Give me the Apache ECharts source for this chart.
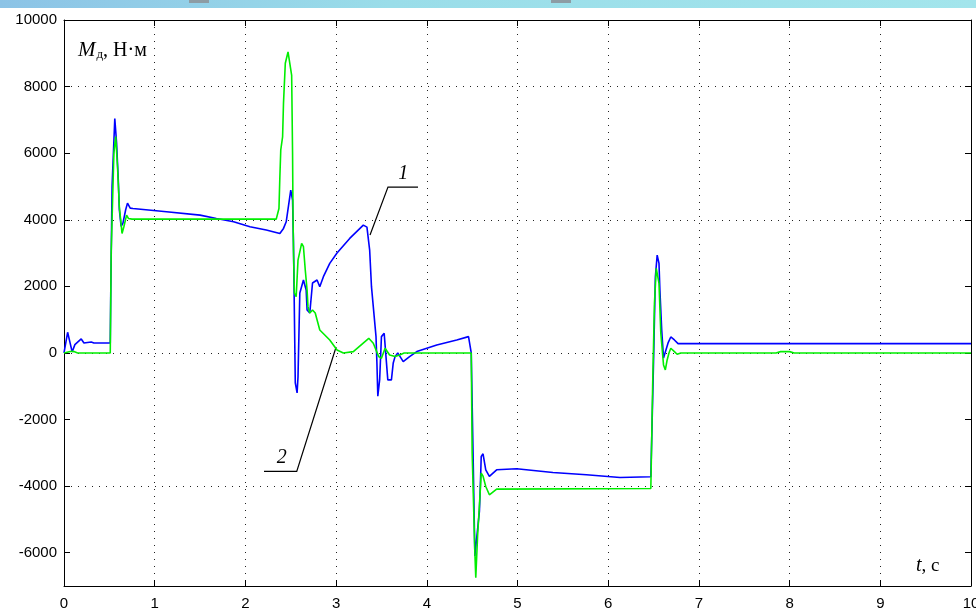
<!DOCTYPE html>
<html>
<head>
<meta charset="utf-8">
<script src="https://cdn.jsdelivr.net/npm/echarts@6/dist/echarts.min.js"></script>
<style>
  html, body { margin: 0; padding: 0; background: #fff; }
  #chart { width: 976px; height: 614px; }
</style>
</head>
<body>
<div id="chart"></div>
<script>
// Torque of the motor vs time, two simulated cases (curve 1 blue, curve 2 green)
const tBlue = [0, 0.01, 0.04, 0.09, 0.12, 0.19, 0.22, 0.30, 0.33, 0.51, 0.515, 0.53, 0.56, 0.58, 0.60, 0.61, 0.63, 0.65, 0.68, 0.70, 0.73,
  0.76, 1.13, 1.50, 1.68, 1.87, 2.05, 2.23, 2.38, 2.42, 2.45, 2.50, 2.52, 2.53, 2.55, 2.57, 2.58, 2.60, 2.64, 2.67, 2.68, 2.71,
  2.74, 2.79, 2.82, 2.86, 2.93, 3.01, 3.15, 3.30, 3.34, 3.37, 3.39, 3.42, 3.44, 3.45, 3.46, 3.48, 3.50, 3.53, 3.55, 3.57, 3.61,
  3.63, 3.65, 3.68, 3.74, 3.81, 3.89, 4.11, 4.33, 4.46, 4.48, 4.49, 4.51, 4.53, 4.55, 4.58, 4.59, 4.60, 4.62, 4.65, 4.69, 4.77,
  4.99, 5.39, 5.76, 6.13, 6.47, 6.50, 6.52, 6.54, 6.56, 6.57, 6.59, 6.61, 6.63, 6.66, 6.69, 6.73, 6.77, 10];
const mBlue = [0, 0, 620, 30, 250, 420, 300, 330, 300, 300, 1700, 5000, 7040, 6300, 5100, 4300, 3800, 3900, 4300, 4500, 4350,
  4340, 4240, 4140, 4040, 3940, 3790, 3690, 3590, 3740, 3940, 4890, 4590, 3300, -900, -1200, -720, 1800, 2190, 1890, 1290, 1200,
  2100, 2190, 1990, 2290, 2690, 3000, 3440, 3840, 3780, 3090, 1990, 1090, 490, -300, -1300, -810, 490, 590, -110, -810, -810,
  -300, -110, 0, -260, -110, 40, 240, 390, 490, 450, 0, -3000, -6100, -6100, -4760, -4010, -3110, -3030, -3510, -3710, -3510,
  -3480, -3590, -3660, -3740, -3720, -260, 2290, 2940, 2690, 1890, 690, -150, -210, 300, 480, 390, 280, 280];

const tGreen = [0, 0.08, 0.11, 0.15, 0.51, 0.52, 0.55, 0.57, 0.59, 0.61, 0.64, 0.66, 0.69, 0.71, 0.75, 2.34, 2.37, 2.38, 2.39,
  2.41, 2.42, 2.44, 2.47, 2.49, 2.51, 2.52, 2.525, 2.53, 2.54, 2.56, 2.58, 2.62, 2.64, 2.66, 2.68, 2.69, 2.71, 2.74, 2.77, 2.82,
  2.93, 3.01, 3.08, 3.19, 3.36, 3.41, 3.47, 3.50, 3.54, 3.59, 3.65, 3.70, 3.75, 4.49, 4.50, 4.53, 4.54, 4.56, 4.59, 4.60, 4.62,
  4.65, 4.69, 4.77, 6.47, 6.49, 6.51, 6.53, 6.56, 6.58, 6.61, 6.63, 6.65, 6.67, 6.69, 6.73, 6.76, 6.80, 7.85, 7.90, 8.00, 8.05, 10];
const mGreen = [0, 50, 40, 0, 0, 3000, 6000, 6500, 5590, 4390, 3590, 3790, 4140, 4040, 4020, 4020, 4340, 5290, 6100,
  6490, 7500, 8700, 9040, 8690, 8340, 6000, 4090, 3090, 1800, 1690, 2790, 3290, 3190, 2490, 1890, 1390, 1200, 1290, 1200, 690,
  390, 90, 0, 40, 440, 290, -110, -160, 140, -60, -110, -60, 0, 0, -3000, -6000, -6750, -5500, -4110, -3610, -3700,
  -4010, -4260, -4090, -4070, -1000, 1500, 2540, 2090, 590, -360, -510, -210, 0, 140, 40, -40, 0, 0, 40, 40, 0, 0];

const yTicks = [-6000, -4000, -2000, 0, 2000, 4000, 6000, 8000, 10000];
const xTicks = [0, 1, 2, 3, 4, 5, 6, 7, 8, 9, 10];

// Leader lines for the curve numbers, in data units [t, M]
const leader1 = [[3.374, 3540], [3.572, 4980], [3.903, 4980]];
const label1 = { text: '1', at: [3.74, 5370] };
const leader2 = [[3.0, 180], [2.566, -3560], [2.205, -3560]];
const label2 = { text: '2', at: [2.40, -3150] };

const zip = (xs, ys) => xs.map((x, i) => [x, ys[i]]);

const chart = echarts.init(document.getElementById('chart'), null, { renderer: 'canvas' });

const dotted = { color: '#222', width: 1, type: [1, 6] };
const tickFont = { color: '#000', fontSize: 15, fontFamily: 'Liberation Sans, Arial, sans-serif' };

const option = {
  animation: false,
  backgroundColor: '#fff',
  grid: { left: 64, right: 5, top: 20, bottom: 28, show: false, containLabel: false, outerBoundsMode: 'none' },
  xAxis: [
    {
      type: 'value', min: 0, max: 10, interval: 1, position: 'bottom',
      axisLine: { show: true, onZero: false, lineStyle: { color: '#000', width: 1 } },
      axisTick: { show: true, inside: true, length: 6, lineStyle: { color: '#000' } },
      axisLabel: Object.assign({ margin: 10, formatter: v => String(v) }, tickFont),
      splitLine: { show: true, lineStyle: dotted }
    },
    {
      type: 'value', min: 0, max: 10, interval: 1, position: 'top',
      axisLine: { show: true, onZero: false, lineStyle: { color: '#000', width: 1 } },
      axisTick: { show: true, inside: true, length: 6, lineStyle: { color: '#000' } },
      axisLabel: { show: false },
      splitLine: { show: false }
    }
  ],
  yAxis: [
    {
      type: 'value', min: -7000, max: 10000, interval: 1000, position: 'left',
      axisLine: { show: true, onZero: false, lineStyle: { color: '#000', width: 1 } },
      axisTick: { show: true, inside: true, length: 6, lineStyle: { color: '#000' }, customValues: yTicks },
      axisLabel: Object.assign({ margin: 7, formatter: v => (yTicks.indexOf(v) >= 0 ? String(v) : '') }, tickFont),
      splitLine: { show: true, lineStyle: { color: ['rgba(0,0,0,0)', '#222'], width: 1, type: [1, 6] } }
    },
    {
      type: 'value', min: -7000, max: 10000, interval: 1000, position: 'right',
      axisLine: { show: true, onZero: false, lineStyle: { color: '#000', width: 1 } },
      axisTick: { show: true, inside: true, length: 6, lineStyle: { color: '#000' }, customValues: yTicks },
      axisLabel: { show: false },
      splitLine: { show: false }
    }
  ],
  series: [
    {
      name: '1', type: 'line', data: zip(tBlue, mBlue), showSymbol: false, symbol: 'none',
      lineStyle: { color: '#0000ff', width: 1.6 }, z: 3
    },
    {
      name: '2', type: 'line', data: zip(tGreen, mGreen), showSymbol: false, symbol: 'none',
      lineStyle: { color: '#00ee00', width: 1.6 }, z: 4
    }
  ]
};

chart.setOption(option);

// Overlay: header band, axis captions and the curve leaders
const px = p => chart.convertToPixel({ xAxisIndex: 0, yAxisIndex: 0 }, p);
const pts = arr => arr.map(px);
const l1 = px(label1.at);
const l2 = px(label2.at);
const serif = 'Liberation Serif, Times New Roman, serif';

chart.setOption({
  graphic: [
    {
      type: 'rect', left: 0, top: 0, silent: true,
      shape: { width: 976, height: 8 },
      style: {
        fill: new echarts.graphic.LinearGradient(0, 0, 1, 0, [
          { offset: 0, color: '#8cc3e6' },
          { offset: 0.4, color: '#9adde9' },
          { offset: 1, color: '#a3e5ec' }
        ])
      }
    },
    { type: 'rect', left: 189, top: 0, silent: true, shape: { width: 20, height: 3 }, style: { fill: '#8d9ca4' } },
    { type: 'rect', left: 551, top: 0, silent: true, shape: { width: 20, height: 3 }, style: { fill: '#8d9ca4' } },
    {
      type: 'text', left: 78, top: 40, silent: true,
      style: {
        text: '{m|M}{s|д}{n|, Н·м}',
        rich: {
          m: { fontFamily: serif, fontStyle: 'italic', fontSize: 21, fill: '#000' },
          s: { fontFamily: serif, fontSize: 13, fill: '#000', verticalAlign: 'bottom', padding: [8, 0, 0, 1] },
          n: { fontFamily: serif, fontSize: 20, fill: '#000' }
        }
      }
    },
    {
      type: 'text', left: 916, top: 556, silent: true,
      style: {
        text: '{t|t}{n|, с}',
        rich: {
          t: { fontFamily: serif, fontStyle: 'italic', fontSize: 20, fill: '#000' },
          n: { fontFamily: serif, fontSize: 19, fill: '#000' }
        }
      }
    },
    {
      type: 'polyline', silent: true,
      shape: { points: pts(leader1) },
      style: { stroke: '#000', lineWidth: 1.2, fill: null }
    },
    {
      type: 'polyline', silent: true,
      shape: { points: pts(leader2) },
      style: { stroke: '#000', lineWidth: 1.2, fill: null }
    },
    {
      type: 'text', x: l1[0], y: l1[1], silent: true,
      style: { text: label1.text, fontFamily: serif, fontStyle: 'italic', fontSize: 20, fill: '#000', align: 'center', verticalAlign: 'middle' }
    },
    {
      type: 'text', x: l2[0], y: l2[1], silent: true,
      style: { text: label2.text, fontFamily: serif, fontStyle: 'italic', fontSize: 20, fill: '#000', align: 'center', verticalAlign: 'middle' }
    }
  ]
});
</script>
</body>
</html>
